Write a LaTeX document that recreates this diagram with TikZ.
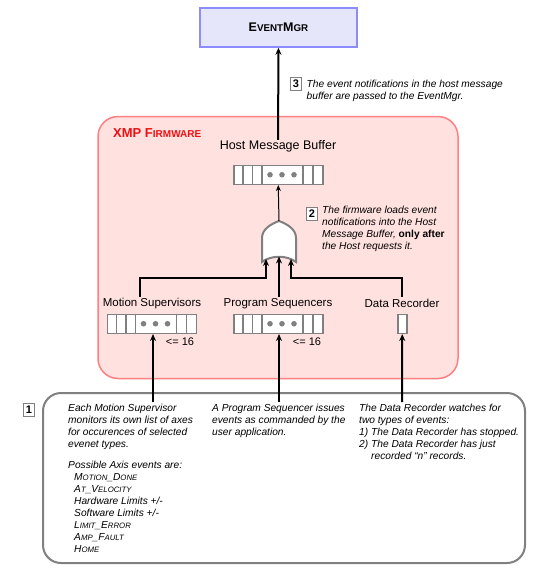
\documentclass[tikz,border=0pt]{standalone}
\usepackage{fontspec}
\setmainfont{Liberation Sans}
\usetikzlibrary{arrows.meta}
\definecolor{evfill}{RGB}{230,230,250}
\definecolor{evdraw}{RGB}{140,140,255}
\definecolor{fwfill}{RGB}{255,226,224}
\definecolor{fwdraw}{RGB}{255,128,128}
\definecolor{gr}{RGB}{128,128,128}
\definecolor{fwred}{RGB}{240,16,16}
\newcommand{\fs}[2]{{\fontsize{#1}{#1}\selectfont #2}}
\newcommand{\bufcells}[1]{%
  \foreach \d in {10,19.5,29,70,80}{\draw[bufline] ([xshift=\d pt]#1.north west) -- ([xshift=\d pt]#1.south west);}
  \foreach \d in {37,49,61}{\fill[gr] ([xshift=\d pt]#1.west) circle (2.8pt);}
}
\begin{document}
\begin{tikzpicture}[x=1pt,y=-1pt,
  thinarr/.style={-{Stealth[length=6pt,width=5pt]}, line width=1pt},
  thickarr/.style={-{Stealth[length=7pt,width=6pt]}, line width=2pt},
  thickline/.style={line width=2pt},
  bufbox/.style={draw=gr, line width=1.5pt, fill=white, minimum width=89pt, minimum height=19pt, inner sep=0pt},
  bufline/.style={draw=gr, line width=1.2pt},
  numbox/.style={draw=gr, line width=1.5pt, fill=white, minimum width=11pt, minimum height=13pt, inner sep=0pt, font=\bfseries\fontsize{11}{11}\selectfont},
  note/.style={font=\itshape\fontsize{10.2}{12}\selectfont, align=left, inner sep=0pt, anchor=north west},
  lbl/.style={font=\fontsize{11.5}{12}\selectfont, inner sep=0pt}
]
\useasboundingbox (0,0) rectangle (545,573);
\fill[white] (0,0) rectangle (545,573);

% EventMgr
\node[draw=evdraw, fill=evfill, line width=1.5pt, minimum width=157pt, minimum height=39pt, inner sep=0pt] (ev) at (278.5,27.5)
  {\bfseries\fs{12.5}{E}\fs{9.8}{VENT}\fs{12.5}{M}\fs{9.8}{GR}};

% Firmware box
\node[draw=fwdraw, fill=fwfill, line width=1.5pt, rounded corners=20pt, minimum width=360pt, minimum height=262pt, inner sep=0pt] (fw) at (278,247.5) {};
\node[anchor=west, inner sep=0pt, text=fwred, font=\bfseries] (fwl) at (113,133)
  {\fs{13}{XMP F}\fs{10}{IRMWARE}};

% Host message buffer
\node[lbl, font=\fontsize{12.5}{13}\selectfont] (hmbl) at (278,146) {Host Message Buffer};
\node[bufbox, anchor=north west] (hb) at (233,164.5) {};
\bufcells{hb}

% arrow 3
\draw[thickarr] (hmbl.north) -- (ev.south);
\node[numbox] (n3) at (296,84) {3};
\node[note, anchor=west] (t3) at (306.5,90.5) {The event notifications in the host message\\buffer are passed to the EventMgr.};

% OR gate
\draw[draw=gr, line width=2pt, fill=white] (262,262) -- (262,238)
  .. controls (262,229) and (271,224) .. (279,221)
  .. controls (287,224) and (296,229) .. (296,238) -- (296,262)
  .. controls (287,255) and (271,255) .. (262,262) -- cycle;
\coordinate (gt) at (279,221);
\coordinate (g1) at (266,259);
\coordinate (g2) at (279,256.5);
\coordinate (g3) at (291,259);
\draw[thinarr] (gt) -- (hb.south);

% label 2
\node[numbox] (n2) at (312,214) {2};
\node[note] (t2) at (322,206) {The firmware loads event\\notifications into the Host\\Message Buffer, {\upshape\bfseries only after}\\the Host requests it.};

% source labels
\node[lbl] (msl) at (152,303.5) {Motion Supervisors};
\node[lbl] (psl) at (278,303.5) {Program Sequencers};
\node[lbl] (drl) at (402,303.5) {Data Recorder};
\coordinate (msj) at (140,297);
\coordinate (psj) at (279,297);
\coordinate (drj) at (402,297);
\draw[thickarr] (msj) -- (140,278) -- (266,278) -- (g1);
\draw[thickarr] (psj) -- (g2);
\draw[thickarr] (drj) -- (402,278) -- (291,278) -- (g3);

% source buffers
\node[bufbox, anchor=north west] (mb) at (106.5,313.5) {};
\bufcells{mb}
\node[bufbox, anchor=north west] (pb) at (233,313.5) {};
\bufcells{pb}
\node[bufbox, minimum width=9pt, anchor=north west] (db) at (397,313.5) {};
\node[lbl, font=\fontsize{11}{12}\selectfont] (c1) at (180,341.5) {<= 16};
\node[lbl, font=\fontsize{11}{12}\selectfont] (c2) at (307,341.5) {<= 16};

% bottom box
\node[draw=gr, fill=white, line width=2pt, rounded corners=18pt, minimum width=482pt, minimum height=170pt, inner sep=0pt] (bb) at (284,478) {};
\node[numbox] (n1) at (29,410) {1};
\coordinate (mt) at (153,402);
\coordinate (pt) at (279,402);
\coordinate (dt) at (402,402);
\draw[thickarr] (mt) -- (mb.south -| mt);
\draw[thickarr] (pt) -- (pb.south -| pt);
\draw[thickarr] (dt) -- (db.south);

\node[note] (col1) at (68,403.5) {Each Motion Supervisor\\monitors its own list of axes\\for occurences of selected\\evenet types.\\[9pt]
Possible Axis events are:\\
\hspace*{6pt}\fs{10.2}{M}\fs{7.8}{OTION}\_\fs{10.2}{D}\fs{7.8}{ONE}\\
\hspace*{6pt}\fs{10.2}{A}\fs{7.8}{T}\_\fs{10.2}{V}\fs{7.8}{ELOCITY}\\
\hspace*{6pt}Hardware Limits +/-\\
\hspace*{6pt}Software Limits +/-\\
\hspace*{6pt}\fs{10.2}{L}\fs{7.8}{IMIT}\_\fs{10.2}{E}\fs{7.8}{RROR}\\
\hspace*{6pt}\fs{10.2}{A}\fs{7.8}{MP}\_\fs{10.2}{F}\fs{7.8}{AULT}\\
\hspace*{6pt}\fs{10.2}{H}\fs{7.8}{OME}};
\node[note] (col2) at (212,403.5) {A Program Sequencer issues\\events as commanded by the\\user application.};
\node[note] (col3) at (359,403.5) {The Data Recorder watches for\\two types of events:\\1) The Data Recorder has stopped.\\2) The Data Recorder has just\\\hspace*{12pt}recorded “n” records.};
\end{tikzpicture}
\end{document}
